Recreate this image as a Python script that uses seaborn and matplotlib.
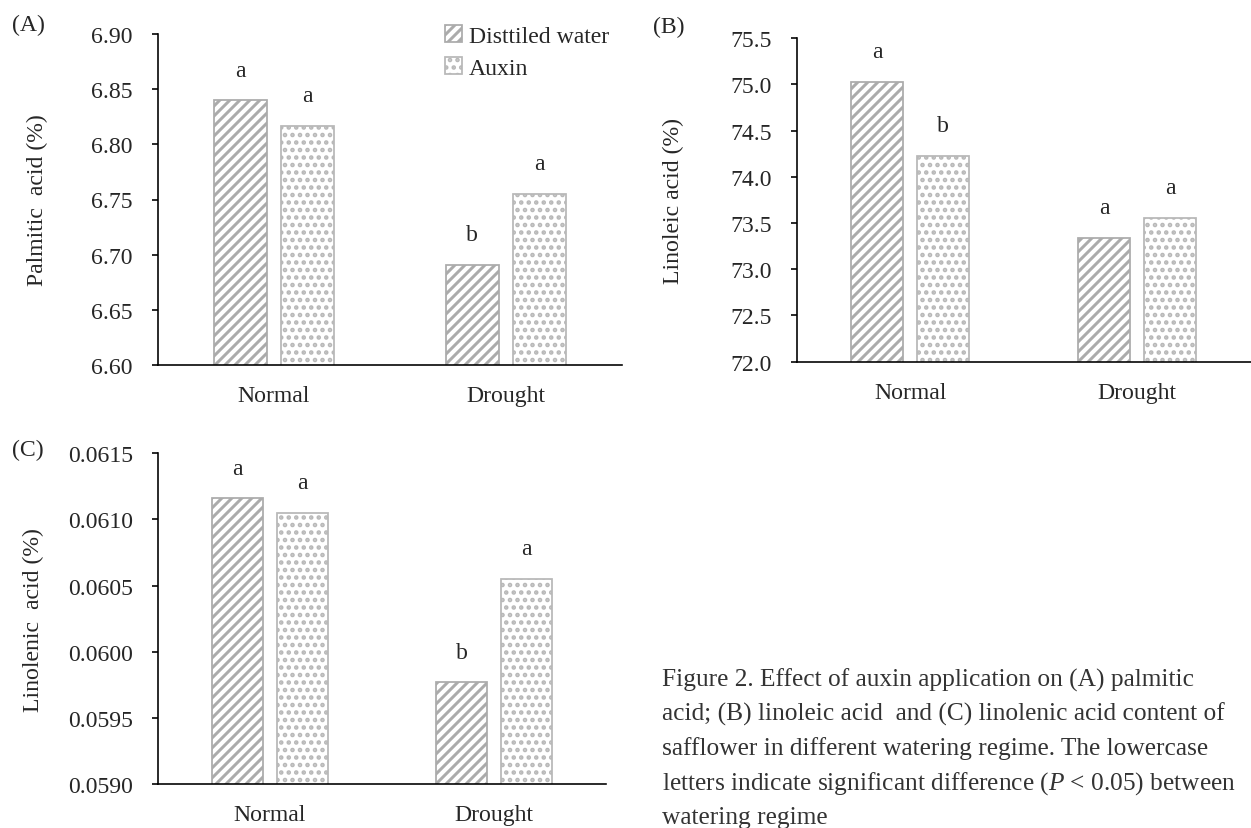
import matplotlib
matplotlib.use('Agg')
import matplotlib.pyplot as plt
from matplotlib.patches import Patch
import seaborn as sns
import pandas as pd

# data
regimes = ['Normal', 'Drought']
treatments = ['Disttiled water', 'Auxin']

palmitic_dw = [6.840, 6.691]
palmitic_aux = [6.817, 6.755]
palmitic_letters_dw = ['a', 'b']
palmitic_letters_aux = ['a', 'a']

linoleic_dw = [75.03, 73.34]
linoleic_aux = [74.23, 73.56]
linoleic_letters_dw = ['a', 'a']
linoleic_letters_aux = ['b', 'a']

linolenic_dw = [0.06116, 0.05977]
linolenic_aux = [0.06105, 0.06055]
linolenic_letters_dw = ['a', 'b']
linolenic_letters_aux = ['a', 'a']

palmitic_ticks = [6.60, 6.65, 6.70, 6.75, 6.80, 6.85, 6.90]
linoleic_ticks = [72.0, 72.5, 73.0, 73.5, 74.0, 74.5, 75.0, 75.5]
linolenic_ticks = [0.0590, 0.0595, 0.0600, 0.0605, 0.0610, 0.0615]

caption = [
    'Figure 2. Effect of auxin application on (A) palmitic',
    'acid; (B) linoleic acid  and (C) linolenic acid content of',
    'safflower in different watering regime. The lowercase',
    r'letters indicate significant difference ($\mathit{P}$ < 0.05) between',
    'watering regime',
]

EDGE = '#9a9a9a'
STRIPE = '#ababab'
DOT = '#b8b8b8'
FS = 19
W, H, DPI = 1251, 829, 90

sns.set_style('ticks')
plt.rcParams['font.family'] = ['Liberation Serif', 'DejaVu Serif']
plt.rcParams['mathtext.fontset'] = 'custom'
plt.rcParams['mathtext.rm'] = 'Liberation Serif'
plt.rcParams['mathtext.it'] = 'Liberation Serif:italic'
plt.rcParams['hatch.linewidth'] = 2.4


def make_df(dw, aux):
    rows = []
    for r, v in zip(regimes, dw):
        rows.append({'regime': r, 'treatment': treatments[0], 'value': v})
    for r, v in zip(regimes, aux):
        rows.append({'regime': r, 'treatment': treatments[1], 'value': v})
    return pd.DataFrame(rows)


def style_bar(bar, hatch, hcolor):
    bar.set_hatch(hatch)
    if hasattr(bar, 'set_hatchcolor'):
        bar.set_hatchcolor(hcolor)
    else:
        bar.set_edgecolor(hcolor)


def draw_panel(ax, dw, aux, let_dw, let_aux, ticks, fmt, ylabel, label_x):
    df = make_df(dw, aux)
    sns.barplot(data=df, x='regime', y='value', hue='treatment',
                order=regimes, hue_order=treatments,
                palette=['white', 'white'], width=0.58, gap=0.21,
                edgecolor=EDGE, linewidth=1.4, errorbar=None,
                legend=False, ax=ax)
    hatches = ['///', '..']
    hcolors = [STRIPE, DOT]
    letters = [let_dw, let_aux]
    for cont, hatch, hc, lets in zip(ax.containers, hatches, hcolors, letters):
        for bar, let in zip(cont, lets):
            style_bar(bar, hatch, hc)
            ax.annotate(let, (bar.get_x() + bar.get_width() / 2, bar.get_height()),
                        xytext=(0, 24), textcoords='offset points',
                        ha='center', va='center', fontsize=FS)
    ax.set_ylim(ticks[0], ticks[-1])
    ax.set_yticks(ticks)
    ax.set_yticklabels([fmt % t for t in ticks])
    ax.set_xlim(-0.5, 1.5)
    ax.set_xlabel('')
    ax.set_ylabel(ylabel, fontsize=FS)
    ax.yaxis.set_label_coords(label_x, 0.5)
    sns.despine(ax=ax)
    for s in ['left', 'bottom']:
        ax.spines[s].set_color('black')
        ax.spines[s].set_linewidth(1.3)
    ax.tick_params(axis='y', length=5, width=1.3, pad=15, labelsize=FS, color='black')
    ax.tick_params(axis='x', length=0, pad=16, labelsize=FS)


fig = plt.figure(figsize=(W / DPI, H / DPI), dpi=DPI)
axA = fig.add_axes([158 / W, 1 - 366 / H, 463.7 / W, 331 / H])
axB = fig.add_axes([796.5 / W, 1 - 362.7 / H, 454.5 / W, 323.4 / H])
axC = fig.add_axes([158 / W, 1 - 785 / H, 448 / W, 330.7 / H])

draw_panel(axA, palmitic_dw, palmitic_aux, palmitic_letters_dw, palmitic_letters_aux,
           palmitic_ticks, '%.2f', 'Palmitic  acid (%)', -0.237)
draw_panel(axB, linoleic_dw, linoleic_aux, linoleic_letters_dw, linoleic_letters_aux,
           linoleic_ticks, '%.1f', 'Linoleic acid (%)', -0.247)
draw_panel(axC, linolenic_dw, linolenic_aux, linolenic_letters_dw, linolenic_letters_aux,
           linolenic_ticks, '%.4f', 'Linolenic  acid (%)', -0.254)

# panel tags
fig.text(12 / W, 1 - 25 / H, '(A)', fontsize=FS, va='center')
fig.text(653 / W, 1 - 27 / H, '(B)', fontsize=FS, va='center')
fig.text(12 / W, 1 - 450 / H, '(C)', fontsize=FS, va='center')

handles = [Patch(facecolor='white', edgecolor=EDGE, hatch='///', linewidth=1.4, label=treatments[0]),
           Patch(facecolor='white', edgecolor=EDGE, hatch='..', linewidth=1.4, label=treatments[1])]
for h, hc in zip(handles, [STRIPE, DOT]):
    style_bar(h, h.get_hatch(), hc)
fig.legend(handles=handles, loc='upper left', bbox_to_anchor=(445 / W, 1 - 26 / H),
           frameon=False, fontsize=FS, handlelength=0.7, handleheight=0.7,
           handletextpad=0.3, labelspacing=0.45, borderpad=0, borderaxespad=0)

# caption
for i, line in enumerate(caption):
    fig.text(662 / W, 1 - (680 + 34.5 * i) / H, line, fontsize=20.3,
             color='#333333', va='center', ha='left')

fig.savefig('out.png', dpi=DPI)
